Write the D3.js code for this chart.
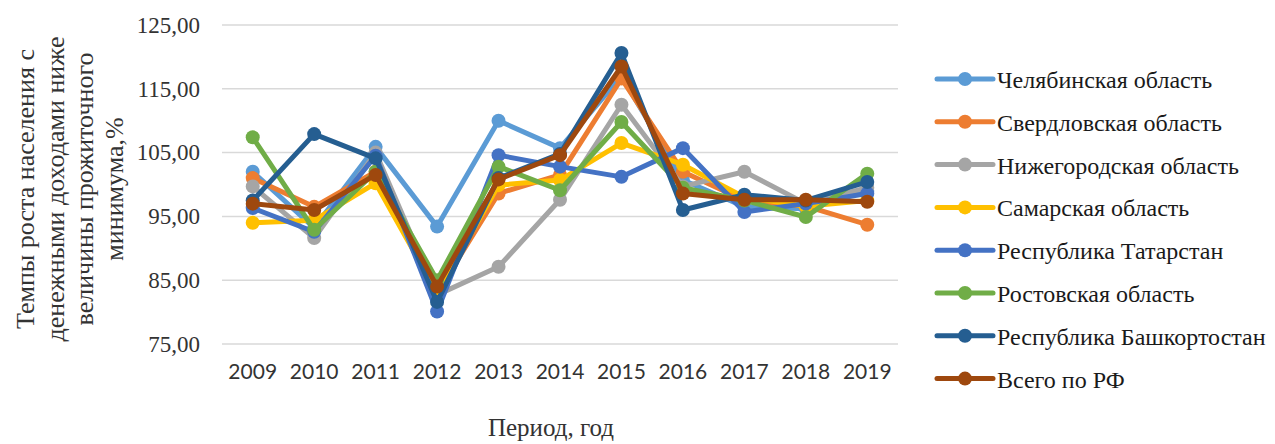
<!DOCTYPE html>
<html><head><meta charset="utf-8">
<script src="https://cdn.jsdelivr.net/npm/d3@7"></script>
<style>body{margin:0;background:#fff;} svg{display:block;}</style>
</head><body>
<svg id="chart" width="1275" height="444"></svg>
<script>
const years = ["2009","2010","2011","2012","2013","2014","2015","2016","2017","2018","2019"];
const yTicks = [75,85,95,105,115,125];
const seriesNames = ["Челябинская область","Свердловская область","Нижегородская область","Самарская область","Республика Татарстан","Ростовская область","Республика Башкортостан","Всего по РФ"];
const seriesColors = ["#5B9BD5","#ED7D31","#A5A5A5","#FFC000","#4472C4","#70AD47","#255E91","#9E480E"];
const chelyabinsk  = [102.0, 93.2,105.9, 93.4,110.0,105.7,117.0,100.7, 96.5, 96.2, 99.0];
const sverdlovsk   = [101.0, 96.5,102.0, 83.0, 98.6,101.5,116.6,102.0, 97.5, 96.6, 93.7];
const nizhny       = [ 99.7, 91.6,105.0, 82.7, 87.1, 97.6,112.5, 99.7,102.0, 97.0, 99.5];
const samara       = [ 94.0, 94.4,100.2, 83.0, 99.9,100.7,106.5,103.1, 98.0, 96.6, 97.5];
const tatarstan    = [ 96.3, 92.6,104.5, 80.1,104.6,102.8,101.2,105.7, 95.7, 97.0, 98.6];
const rostov       = [107.4, 92.9,102.0, 85.0,102.8, 99.1,109.8, 99.5, 97.5, 94.9,101.7];
const bashkortostan= [ 97.5,107.9,104.1, 81.6,101.0,104.8,120.6, 96.0, 98.4, 97.5,100.4];
const russia       = [ 97.0, 96.0,101.5, 84.0,100.8,104.6,118.5, 98.6, 97.6, 97.6, 97.3];
const seriesValues = [chelyabinsk,sverdlovsk,nizhny,samara,tatarstan,rostov,bashkortostan,russia];

(function(){
const svg = d3.select("#chart");
const font = "'Liberation Serif','Times New Roman',serif";
const sans = "Lato, 'Open Sans', sans-serif";
const pL = 222, pR = 898, pT = 25, pB = 344;

const x = d3.scaleBand().domain(years).range([pL, pR]);
const y = d3.scaleLinear().domain([75,125]).range([pB, pT]);

svg.append("g").selectAll("line").data(yTicks).join("line")
  .attr("x1", pL).attr("x2", pR)
  .attr("y1", d => y(d)).attr("y2", d => y(d))
  .attr("stroke", "#d9d9d9").attr("stroke-width", 1.5);

const yAxis = d3.axisLeft(y).tickValues(yTicks)
  .tickFormat(d => d3.format(".2f")(d).replace(".", ","))
  .tickSize(0).tickPadding(22);
const gy = svg.append("g").attr("transform", `translate(${pL},0)`).call(yAxis);
gy.select(".domain").remove();
gy.selectAll("text").attr("font-family", font).attr("font-size", 23).attr("fill", "#333");

const xAxis = d3.axisBottom(x).tickSize(0).tickPadding(20);
const gx = svg.append("g").attr("transform", `translate(0,${pB})`).call(xAxis);
gx.select(".domain").remove();
gx.selectAll("text").attr("font-family", sans).attr("font-size", 21).attr("fill", "#333");

const line = d3.line().x((d,i) => x(years[i]) + x.bandwidth()/2).y(d => y(d));
seriesValues.forEach((vals, s) => {
  const g = svg.append("g");
  g.append("path").datum(vals).attr("d", line)
    .attr("fill", "none").attr("stroke", seriesColors[s]).attr("stroke-width", 5)
    .attr("stroke-linejoin", "round");
  g.selectAll("circle").data(vals).join("circle")
    .attr("cx", (d,i) => x(years[i]) + x.bandwidth()/2).attr("cy", d => y(d))
    .attr("r", 7).attr("fill", seriesColors[s]);
});

const yTitle = ["Темпы  роста населения  с","денежными доходами ниже","величины прожиточного","минимума,%"];
const yt = svg.append("text").attr("transform", "translate(0,189) rotate(-90)")
  .attr("font-family", font).attr("font-size", 26).attr("fill", "#333").attr("text-anchor", "middle");
yTitle.forEach((t, i) => {
  yt.append("tspan").attr("x", 0).attr("y", 34 + i*29.5).text(t);
});

svg.append("text").attr("x", 551).attr("y", 436).attr("text-anchor", "middle")
  .attr("font-family", font).attr("font-size", 25).attr("fill", "#333").text("Период, год");

const lg = svg.append("g");
seriesNames.forEach((n, i) => {
  const cy = 79 + i * 42.8;
  lg.append("line").attr("x1", 937).attr("x2", 993).attr("y1", cy).attr("y2", cy)
    .attr("stroke", seriesColors[i]).attr("stroke-width", 5).attr("stroke-linecap", "round");
  lg.append("circle").attr("cx", 965).attr("cy", cy).attr("r", 7).attr("fill", seriesColors[i]);
  lg.append("text").attr("x", 997).attr("y", cy + 9).attr("font-family", font)
    .attr("font-size", 24).attr("fill", "#1a1a1a").text(n);
});
})();
</script>
</body></html>
